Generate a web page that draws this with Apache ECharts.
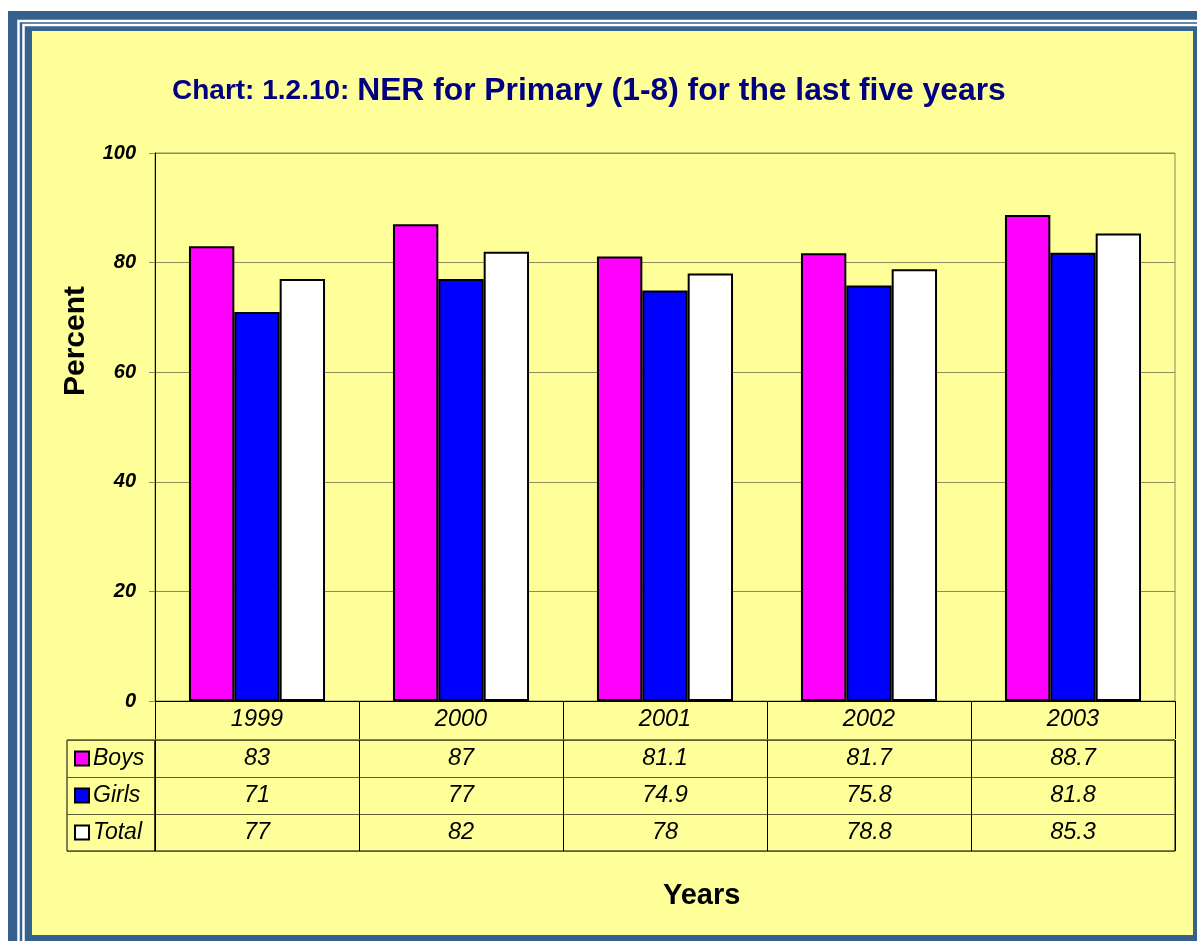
<!DOCTYPE html>
<html>
<head>
<meta charset="utf-8">
<title>NER for Primary</title>
<script src="https://cdn.jsdelivr.net/npm/echarts@6/dist/echarts.min.js"></script>
<style>html,body{margin:0;padding:0;background:#fff;} #main{width:1197px;height:941px;}</style>
</head>
<body>
<div id="main"></div>
<script>
// data
const years = ['1999', '2000', '2001', '2002', '2003'];
const boys = [83, 87, 81.1, 81.7, 88.7];
const girls = [71, 77, 74.9, 75.8, 81.8];
const total = [77, 82, 78, 78.8, 85.3];
const rowNames = ['Boys', 'Girls', 'Total'];
const rowColors = ['#ff00ff', '#0000ff', '#ffffff'];

const FONT = '"Liberation Sans", Arial, sans-serif';
const OLIVE = '#8c8c5c';
const ROWLINE = '#5e5e32';

// cells of the data table under the plot
const rows = [boys, girls, total];
let cells = [];
rows.forEach((vals, r) => {
  vals.forEach((v, i) => cells.push([years[i], rowNames[r], v]));
});

let markerRich = {
  t: {fontSize: 23, fontStyle: 'italic', color: '#000', fontFamily: FONT, padding: [0, 0, 0, 5], verticalAlign: 'middle'}
};
rowColors.forEach((c, i) => {
  markerRich['m' + i] = {width: 12, height: 12, backgroundColor: c, borderColor: '#000', borderWidth: 2, verticalAlign: 'middle'};
});

const barSeries = [boys, girls, total].map((vals, i) => ({
  name: rowNames[i],
  type: 'bar',
  xAxisIndex: 0,
  yAxisIndex: 0,
  data: vals,
  barGap: '0%',
  barCategoryGap: '33.3%',
  itemStyle: {color: rowColors[i], borderColor: '#000', borderWidth: 2}
}));

var myChart = echarts.init(document.getElementById('main'));
var option = {
  backgroundColor: '#fff',
  animation: false,
  title: [
    {
      text: '{a|Chart: 1.2.10: }{b|NER for Primary (1-8) for the last five years}',
      left: 172, top: 75, padding: 0,
      textStyle: {
        rich: {
          a: {fontSize: 28, fontWeight: 'bold', color: '#000080', fontFamily: FONT},
          b: {fontSize: 31.8, fontWeight: 'bold', color: '#000080', fontFamily: FONT}
        }
      }
    },
    {
      text: 'Years', left: 663, top: 881, padding: 0,
      textStyle: {fontSize: 29, fontWeight: 'bold', color: '#000', fontFamily: FONT}
    }
  ],
  graphic: {
    elements: [
      {type: 'rect', z: -100, shape: {x: 8, y: 11, width: 1189, height: 930}, style: {fill: '#36618f'}},
      {type: 'rect', z: -99, shape: {x: 18.5, y: 21, width: 1300, height: 1000}, style: {fill: null, stroke: '#fff', lineWidth: 2.5}},
      {type: 'rect', z: -99, shape: {x: 23.5, y: 25, width: 1300, height: 1000}, style: {fill: null, stroke: '#fff', lineWidth: 2.5}},
      {type: 'rect', z: -98, shape: {x: 32, y: 31, width: 1161, height: 904}, style: {fill: '#ffff99'}}
    ]
  },
  grid: [
    {left: 155, top: 153, width: 1020, height: 548, show: true, backgroundColor: 'transparent', borderColor: OLIVE, borderWidth: 1, outerBoundsMode: 'none'},
    {left: 155, top: 740, width: 1020, height: 111, show: true, backgroundColor: 'transparent', borderColor: '#000', borderWidth: 1, outerBoundsMode: 'none'},
    {left: 67, top: 740, width: 88, height: 111, show: true, backgroundColor: 'transparent', borderColor: '#000', borderWidth: 1, outerBoundsMode: 'none'}
  ],
  xAxis: [
    {
      gridIndex: 0, type: 'category', data: years,
      axisLine: {show: true, lineStyle: {color: '#000', width: 1}},
      axisTick: {show: true, interval: 0, length: 38, lineStyle: {color: '#000'}},
      axisLabel: {interval: 0, margin: 7, fontSize: 23.5, fontStyle: 'italic', color: '#000', fontFamily: FONT},
      splitLine: {show: false}
    },
    {
      gridIndex: 1, type: 'category', data: years,
      axisLine: {show: false}, axisTick: {show: false}, axisLabel: {show: false},
      splitLine: {show: true, interval: 0, lineStyle: {color: '#000', width: 1}}
    },
    {gridIndex: 2, type: 'value', show: false, splitLine: {show: false}}
  ],
  yAxis: [
    {
      gridIndex: 0, type: 'value', min: 0, max: 100, interval: 20,
      name: 'Percent', nameLocation: 'middle', nameRotate: 90, nameGap: 64,
      nameTextStyle: {fontSize: 30, fontWeight: 'bold', color: '#000', fontFamily: FONT, padding: [0, 0, 0, 172]},
      axisLine: {show: true, lineStyle: {color: '#000', width: 1}},
      axisTick: {show: true, length: 6, lineStyle: {color: OLIVE}},
      axisLabel: {margin: 19, fontSize: 20, fontWeight: 'bold', fontStyle: 'italic', color: '#000', fontFamily: FONT},
      splitLine: {show: true, lineStyle: {color: OLIVE, width: 1}}
    },
    {
      gridIndex: 1, type: 'category', data: rowNames, inverse: true,
      axisLine: {show: false}, axisTick: {show: false}, axisLabel: {show: false},
      splitLine: {show: true, interval: 0, lineStyle: {color: ROWLINE, width: 1}}
    },
    {
      gridIndex: 2, type: 'category', data: rowNames, inverse: true,
      axisLine: {show: false}, axisTick: {show: false},
      axisLabel: {
        inside: true, interval: 0, margin: 9, align: 'left',
        formatter: (v, i) => '{m' + i + '|}{t|' + v + '}',
        rich: markerRich
      },
      splitLine: {show: true, interval: 0, lineStyle: {color: ROWLINE, width: 1}}
    }
  ],
  series: barSeries.concat([
    {
      type: 'scatter',
      xAxisIndex: 1,
      yAxisIndex: 1,
      data: cells,
      symbolSize: 1,
      itemStyle: {color: 'transparent', opacity: 1},
      label: {
        show: true, position: 'inside', opacity: 1,
        formatter: p => String(p.value[2]),
        fontSize: 23.5, fontStyle: 'italic', color: '#000', fontFamily: FONT
      }
    }
  ])
};
myChart.setOption(option);
</script>
</body>
</html>
